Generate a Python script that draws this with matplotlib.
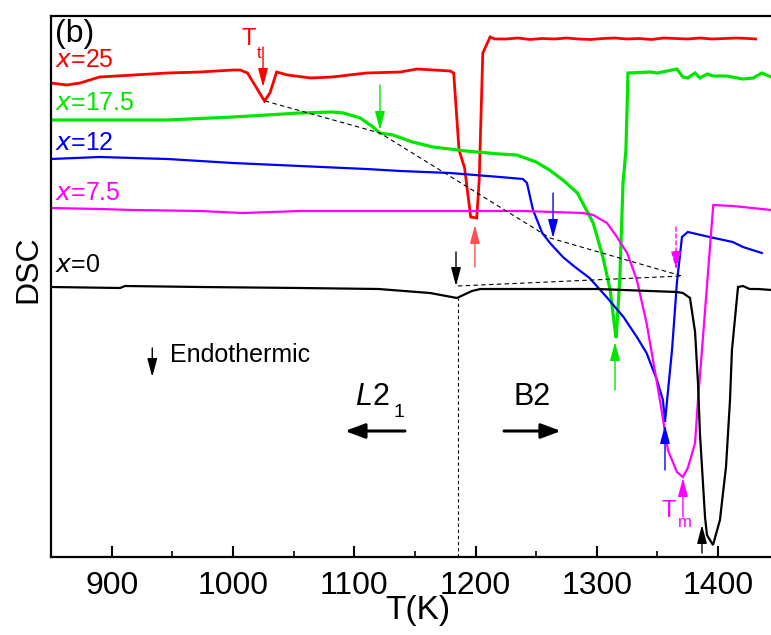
import numpy as np
import matplotlib.pyplot as plt
from matplotlib.ticker import MultipleLocator

plt.rcParams['font.family'] = ['Liberation Sans', 'DejaVu Sans']

# DSC traces, T in K, signal in arbitrary (offset) units
T_25 = [850, 863, 874, 890, 918, 946, 973, 1000, 1006, 1012, 1026, 1030.5, 1036, 1045,
        1064, 1082, 1110, 1138, 1152, 1179, 1182, 1186.4, 1191, 1196, 1201, 1203,
        1206, 1212, 1216, 1225, 1235, 1245, 1255, 1265, 1275, 1285, 1295, 1305,
        1315, 1325, 1335, 1345, 1355, 1365, 1375, 1385, 1395, 1405, 1415, 1425, 1431]
dsc_25 = [474, 472, 474, 480, 482, 484, 485, 487, 487, 484, 456, 464, 485, 482,
          479, 480, 484, 485, 488, 486, 484, 407, 389, 340, 339, 377,
          504, 520, 518, 518, 519, 517.5, 518.5, 518, 519, 518, 517.5, 518.5,
          519, 518, 518.5, 517.5, 519, 518.5, 518, 519, 518, 518.5, 519, 518.5, 518]

T_175 = [850, 890, 946, 1000, 1028, 1055, 1082, 1091, 1105, 1115.5, 1121, 1132,
         1148, 1165, 1192, 1220, 1234, 1250, 1261, 1272, 1284, 1297, 1305, 1311,
         1315, 1316, 1319, 1321.6, 1324, 1325.7, 1344, 1350, 1358, 1366, 1371,
         1375, 1381, 1385, 1391, 1396, 1407, 1420.5, 1429, 1436, 1444]
dsc_175 = [437, 437, 437, 440, 442, 444, 445, 444, 439, 430, 424, 422,
           415, 410, 406, 403, 402, 395, 387, 377, 364, 334, 300, 267,
           227, 219, 280, 374, 407, 484, 485, 484, 486, 488, 480,
           479, 484, 479, 483, 481, 481, 478, 479, 484, 480]

T_12 = [850, 890, 946, 1000, 1055, 1110, 1138, 1179, 1220, 1239, 1242.4, 1247.4,
        1255, 1261.4, 1272, 1282, 1294, 1308, 1322, 1333, 1341, 1349.6, 1354.5,
        1356.2, 1358.6, 1362, 1366, 1370.2, 1375, 1393, 1412, 1420.5, 1436]
dsc_12 = [398, 400, 398, 394, 391, 388, 386, 384, 380, 378, 374, 347,
          324, 314, 300, 290, 279, 260, 240, 220, 204, 177, 157,
          135, 165, 207, 274, 320, 325, 320, 315, 310, 304]

T_75 = [850, 890, 918, 973, 1008, 1055, 1110, 1180, 1240, 1288.6, 1297, 1308.4,
        1316.6, 1325, 1333, 1341, 1349.6, 1352, 1358.6, 1366, 1371, 1375, 1381,
        1383.4, 1386.7, 1391, 1396, 1412, 1444]
dsc_75 = [349, 348, 347, 346, 344, 346, 346, 346, 346, 344, 342, 334,
          320, 304, 277, 234, 174, 157, 107, 85, 80, 89, 114,
          157, 207, 274, 352, 351, 347]

T_0 = [850, 907, 911, 973, 1055, 1120, 1162.5, 1184.7, 1197, 1204, 1300, 1366,
       1371, 1376.8, 1381, 1383.4, 1385, 1389.2, 1390.8, 1395.8, 1401.5, 1406.5,
       1409.8, 1411.4, 1416.4, 1420.5, 1426, 1433, 1444]
dsc_0 = [270, 269, 271, 270, 269, 268, 264, 259, 266, 268, 268, 265,
         264, 259, 225, 174, 124, 40, 22, 12, 37, 90,
         157, 207, 270, 271, 268, 268, 267]

labels = ['x=25', 'x=17.5', 'x=12', 'x=7.5', 'x=0']
colors = ['#ff0000', '#00e600', '#0000ff', '#ff00ff', '#000000']
label_y = [490, 447, 407, 357, 285]

# order-disorder (Tt) points joined by the dashed guide
tt_T = [1026.4, 1121.2, 1261.4, 1370.2]
tt_dsc = [456, 424, 319, 281]
tt0_T = [1185.5, 1370.2]
tt0_dsc = [271, 281]

fig = plt.figure(figsize=(7.71, 6.35), dpi=100)
ax = fig.add_axes([51 / 771, 78 / 635, 1 - 51 / 771, (557 - 15.5) / 635])

curves = [(T_25, dsc_25, 2.0), (T_175, dsc_175, 2.3), (T_12, dsc_12, 1.6),
          (T_75, dsc_75, 1.6), (T_0, dsc_0, 1.6)]
for (t, d, lw), c in zip(curves, colors):
    ax.plot(t, d, color=c, lw=lw, solid_joinstyle='miter')

ax.plot(tt_T, tt_dsc, color='k', lw=0.8, dashes=(4, 3))
ax.plot(tt0_T, tt0_dsc, color='k', lw=0.8, dashes=(4, 3))
ax.plot([1185.5, 1185.5], [0, 259], color='k', lw=0.8, dashes=(3, 2.5))

for lab, c, yl in zip(labels, colors, label_y):
    ax.text(853, yl, r'$\mathit{x}$' + lab[1:], color=c, fontsize=18,
            va='baseline', ha='left')


def arrow(x, y0, y1, color, lw=1.0, ls='-'):
    ax.annotate('', xy=(x, y1), xytext=(x, y0),
                arrowprops=dict(arrowstyle='-|>,head_length=1.5,head_width=0.4',
                                mutation_scale=7.5, color=color, lw=lw, ls=ls,
                                shrinkA=0, shrinkB=0))


# Tt arrows (down) and Tm arrows (up)
arrow(1024.8, 510, 470, '#ff0000')
arrow(1121.2, 472, 427, '#00e600')
arrow(1263.9, 364, 319, '#0000ff')
arrow(1183.9, 305, 271, '#000000')
arrow(1365.3, 330, 287, '#ff00ff', ls=(0, (3, 2)))
arrow(1199.5, 290, 332, '#ff5050')
arrow(1315.0, 167, 215, '#00e600')
arrow(1356.2, 87, 132, '#0000ff')
arrow(1371.0, 40, 79, '#ff00ff')
arrow(1386.7, 4, 32, '#000000')
arrow(933.5, 209, 180, '#000000')

ax.text(1007, 512, 'T', color='#ff0000', fontsize=17, va='baseline')
ax.text(1020, 499, 't', color='#ff0000', fontsize=12, va='baseline')
ax.text(1353.7, 40, 'T', color='#ff00ff', fontsize=17, va='baseline')
ax.text(1366.5, 30, 'm', color='#ff00ff', fontsize=12, va='baseline')

ax.text(948, 202, 'Endothermic', fontsize=18, va='center', ha='left')
ax.text(1100.6, 152, 'L', fontsize=22, style='italic', va='baseline')
ax.text(1115, 152, '2', fontsize=22, va='baseline')
ax.text(1132, 140, '1', fontsize=14, va='baseline')
ax.text(1231, 152, 'B2', fontsize=22, va='baseline')

for x0, x1 in [(1141.8, 1092.4), (1223.5, 1270.4)]:
    ax.annotate('', xy=(x1, 126), xytext=(x0, 126),
                arrowprops=dict(arrowstyle='-|>,head_length=1.2,head_width=0.45',
                                mutation_scale=10, color='k', lw=2.2,
                                shrinkA=0, shrinkB=0))

ax.text(853, 523, '(b)', fontsize=23, va='center', ha='left')

ax.set_xlim(850, 1443.6)
ax.set_ylim(0, 541.5)
ax.xaxis.set_major_locator(MultipleLocator(100))
ax.xaxis.set_minor_locator(MultipleLocator(50))
ax.tick_params(axis='x', which='major', direction='in', length=8, width=1.5,
               labelsize=23, pad=10)
ax.tick_params(axis='x', which='minor', direction='in', length=4.5, width=1.2)
ax.set_yticks([])
ax.spines['right'].set_visible(False)
for s in ['left', 'bottom', 'top']:
    ax.spines[s].set_linewidth(1.6)

fig.text(418 / 771, 1 - 611 / 635, 'T(K)', fontsize=24, ha='center', va='center')
fig.text(28 / 771, 1 - 269 / 635, 'DSC', fontsize=23, rotation=90,
         ha='center', va='center')

fig.savefig('out.png', dpi=100)
